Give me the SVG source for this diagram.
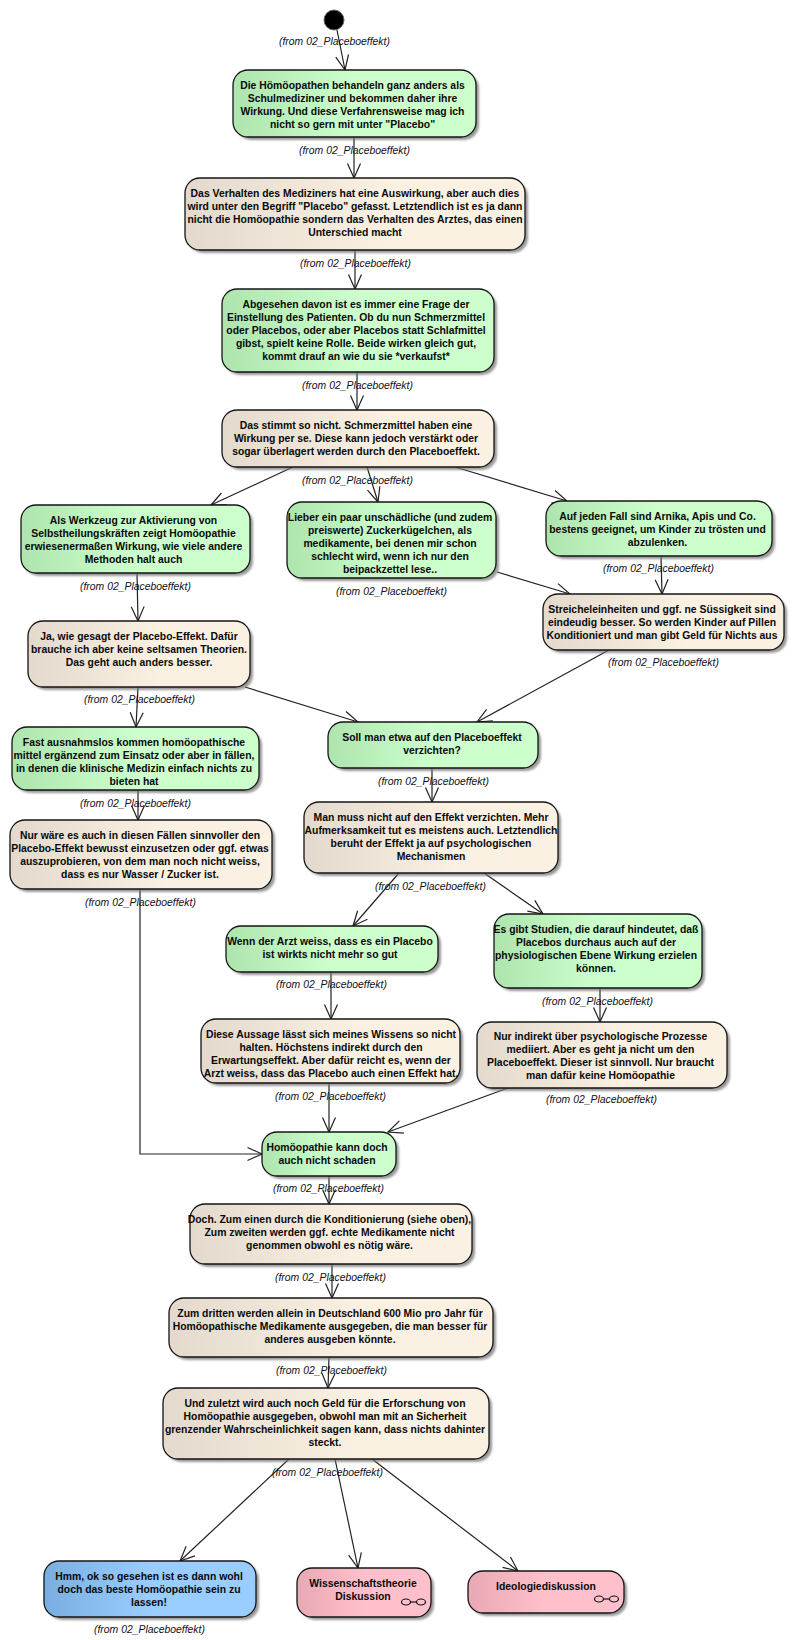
<svg xmlns="http://www.w3.org/2000/svg" width="795" height="1640" viewBox="0 0 795 1640">
<style>
.g{fill:url(#gg)}.b{fill:url(#gb)}.o{fill:url(#go)}.p{fill:url(#gp)}
.n{stroke:#151515;stroke-width:1.3}
.s{fill:#777;opacity:.75;filter:url(#bl)}
.t{font:bold 10.4px "Liberation Sans",Arial,sans-serif;fill:#0a0a0a;text-anchor:middle}
.f{font:italic 10.4px "Liberation Sans",Arial,sans-serif;fill:#101018}
.c{fill:none;stroke:#222;stroke-width:1.2;marker-end:url(#ah)}
.i{fill:none;stroke:#111;stroke-width:1.2}
</style>
<defs>
<linearGradient id="gg"><stop offset="0" stop-color="#aee4ae"/><stop offset=".5" stop-color="#ccffcc"/></linearGradient>
<linearGradient id="go"><stop offset="0" stop-color="#e3d9cc"/><stop offset=".6" stop-color="#fbf1e3"/></linearGradient>
<linearGradient id="gb"><stop offset="0" stop-color="#7aaee0"/><stop offset=".5" stop-color="#99ccff"/></linearGradient>
<linearGradient id="gp"><stop offset="0" stop-color="#e8a8b4"/><stop offset=".5" stop-color="#ffc0cb"/></linearGradient>
<filter id="bl" x="-5%" y="-10%" width="110%" height="120%"><feGaussianBlur stdDeviation="1.2"/></filter>
<marker id="ah" markerUnits="userSpaceOnUse" markerWidth="20" markerHeight="16" refX="16" refY="8" orient="auto" overflow="visible"><path d="M1.5 1.5L16 8L1.5 14.5" fill="none" stroke="#222" stroke-width="1.2"/></marker>
</defs>
<g id="connectors">
<path class="c" d="M337 30L345 70"/>
<path class="c" d="M354 137V178"/>
<path class="c" d="M355 250V289"/>
<path class="c" d="M357 372V410"/>
<path class="c" d="M293 467L211 505"/>
<path class="c" d="M367 467L378 502"/>
<path class="c" d="M455 467L567 501"/>
<path class="c" d="M137 573L138 621"/>
<path class="c" d="M138 687L136 727"/>
<path class="c" d="M245 687L358 722"/>
<path class="c" d="M497 572L570 594"/>
<path class="c" d="M661 556L662 594"/>
<path class="c" d="M609 650L477 722"/>
<path class="c" d="M138 790V820"/>
<path class="c" d="M432 768V802"/>
<path class="c" d="M399 873L353 926"/>
<path class="c" d="M484 873L543 914"/>
<path class="c" d="M331 972V1019"/>
<path class="c" d="M600 988V1022"/>
<path class="c" d="M329 1083V1132"/>
<path class="c" d="M508 1088L388 1132"/>
<path class="c" d="M140 889V1154H262"/>
<path class="c" d="M329 1176V1204"/>
<path class="c" d="M332 1264V1298"/>
<path class="c" d="M329 1357L328 1388"/>
<path class="c" d="M289 1459L180 1561"/>
<path class="c" d="M335 1459L358 1568"/>
<path class="c" d="M372 1459L518 1571"/>
</g>
<g id="start"><circle cx="334" cy="20" r="10" fill="#000" stroke="#666" stroke-width="1"/>
<text class="f" x="279" y="45">(from 02_Placeboeffekt)</text></g>
<g id="n1"><rect class="s" x="236" y="73" width="243" height="67" rx="15"/><rect class="n g" x="233" y="70" width="243" height="67" rx="15"/>
<text class="t"><tspan x="352.5" y="89">Die Hömöopathen behandeln ganz anders als</tspan><tspan x="352.5" y="102">Schulmediziner und bekommen daher ihre</tspan><tspan x="352.5" y="115">Wirkung. Und diese Verfahrensweise mag ich</tspan><tspan x="352.5" y="128">nicht so gern mit unter "Placebo"</tspan></text>
<text class="f" x="299" y="154">(from 02_Placeboeffekt)</text></g>
<g id="n2"><rect class="s" x="188" y="181" width="340" height="72" rx="15"/><rect class="n o" x="185" y="178" width="340" height="72" rx="15"/>
<text class="t"><tspan x="355" y="197">Das Verhalten des Mediziners hat eine Auswirkung, aber auch dies</tspan><tspan x="355" y="210">wird unter den Begriff "Placebo" gefasst. Letztendlich ist es ja dann</tspan><tspan x="355" y="223">nicht die Homöopathie sondern das Verhalten des Arztes, das einen</tspan><tspan x="355" y="236">Unterschied macht</tspan></text>
<text class="f" x="300" y="267">(from 02_Placeboeffekt)</text></g>
<g id="n3"><rect class="s" x="225" y="292" width="272" height="83" rx="15"/><rect class="n g" x="222" y="289" width="272" height="83" rx="15"/>
<text class="t"><tspan x="356" y="308">Abgesehen davon ist es immer eine Frage der</tspan><tspan x="356" y="321">Einstellung des Patienten. Ob du nun Schmerzmittel</tspan><tspan x="356" y="334">oder Placebos, oder aber Placebos statt Schlafmittel</tspan><tspan x="356" y="347">gibst, spielt keine Rolle. Beide wirken gleich gut,</tspan><tspan x="356" y="360">kommt drauf an wie du sie *verkaufst*</tspan></text>
<text class="f" x="302" y="389">(from 02_Placeboeffekt)</text></g>
<g id="n4"><rect class="s" x="225" y="413" width="272" height="57" rx="15"/><rect class="n o" x="222" y="410" width="272" height="57" rx="15"/>
<text class="t"><tspan x="356" y="429">Das stimmt so nicht. Schmerzmittel haben eine</tspan><tspan x="356" y="442">Wirkung per se. Diese kann jedoch verstärkt oder</tspan><tspan x="356" y="455">sogar überlagert werden durch den Placeboeffekt.</tspan></text>
<text class="f" x="302" y="484">(from 02_Placeboeffekt)</text></g>
<g id="n5"><rect class="s" x="24" y="508" width="229" height="68" rx="15"/><rect class="n g" x="21" y="505" width="229" height="68" rx="15"/>
<text class="t"><tspan x="133.5" y="524">Als Werkzeug zur Aktivierung von</tspan><tspan x="133.5" y="537">Selbstheilungskräften zeigt Homöopathie</tspan><tspan x="133.5" y="550">erwiesenermaßen Wirkung, wie viele andere</tspan><tspan x="133.5" y="563">Methoden halt auch</tspan></text>
<text class="f" x="80" y="590">(from 02_Placeboeffekt)</text></g>
<g id="n6"><rect class="s" x="290" y="505" width="209" height="76" rx="15"/><rect class="n g" x="287" y="502" width="209" height="76" rx="15"/>
<text class="t"><tspan x="390" y="521">Lieber ein paar unschädliche (und zudem</tspan><tspan x="390" y="534">preiswerte) Zuckerkügelchen, als</tspan><tspan x="390" y="547">medikamente, bei denen mir schon</tspan><tspan x="390" y="560">schlecht wird, wenn ich nur den</tspan><tspan x="390" y="573">beipackzettel lese..</tspan></text>
<text class="f" x="336" y="595">(from 02_Placeboeffekt)</text></g>
<g id="n7"><rect class="s" x="549" y="504" width="226" height="55" rx="15"/><rect class="n g" x="546" y="501" width="226" height="55" rx="15"/>
<text class="t"><tspan x="657.5" y="520">Auf jeden Fall sind Arnika, Apis und Co.</tspan><tspan x="657.5" y="533">bestens geeignet, um Kinder zu trösten und</tspan><tspan x="657.5" y="546">abzulenken.</tspan></text>
<text class="f" x="603" y="572">(from 02_Placeboeffekt)</text></g>
<g id="n8"><rect class="s" x="546" y="597" width="241" height="56" rx="15"/><rect class="n o" x="543" y="594" width="241" height="56" rx="15"/>
<text class="t"><tspan x="662" y="613">Streicheleinheiten und ggf. ne Süssigkeit sind</tspan><tspan x="662" y="626">eindeudig besser. So werden Kinder auf Pillen</tspan><tspan x="662" y="639">Konditioniert und man gibt Geld für Nichts aus</tspan></text>
<text class="f" x="608" y="666">(from 02_Placeboeffekt)</text></g>
<g id="n9"><rect class="s" x="31" y="624" width="222" height="66" rx="15"/><rect class="n o" x="28" y="621" width="222" height="66" rx="15"/>
<text class="t"><tspan x="139" y="640">Ja, wie gesagt der Placebo-Effekt. Dafür</tspan><tspan x="139" y="653">brauche ich aber keine seltsamen Theorien.</tspan><tspan x="139" y="666">Das geht auch anders besser.</tspan></text>
<text class="f" x="84" y="703">(from 02_Placeboeffekt)</text></g>
<g id="n10"><rect class="s" x="15" y="730" width="247" height="63" rx="15"/><rect class="n g" x="12" y="727" width="247" height="63" rx="15"/>
<text class="t"><tspan x="134" y="746">Fast ausnahmslos kommen homöopathische</tspan><tspan x="134" y="759">mittel ergänzend zum Einsatz oder aber in fällen,</tspan><tspan x="134" y="772">in denen die klinische Medizin einfach nichts zu</tspan><tspan x="134" y="785">bieten hat</tspan></text>
<text class="f" x="80" y="807">(from 02_Placeboeffekt)</text></g>
<g id="n11"><rect class="s" x="331" y="725" width="210" height="46" rx="15"/><rect class="n g" x="328" y="722" width="210" height="46" rx="15"/>
<text class="t"><tspan x="432" y="741">Soll man etwa auf den Placeboeffekt</tspan><tspan x="432" y="754">verzichten?</tspan></text>
<text class="f" x="378" y="785">(from 02_Placeboeffekt)</text></g>
<g id="n12"><rect class="s" x="307" y="805" width="254" height="71" rx="15"/><rect class="n o" x="304" y="802" width="254" height="71" rx="15"/>
<text class="t"><tspan x="431" y="821">Man muss nicht auf den Effekt verzichten. Mehr</tspan><tspan x="431" y="834">Aufmerksamkeit tut es meistens auch. Letztendlich</tspan><tspan x="431" y="847">beruht der Effekt ja auf psychologischen</tspan><tspan x="431" y="860">Mechanismen</tspan></text>
<text class="f" x="375" y="890">(from 02_Placeboeffekt)</text></g>
<g id="n13"><rect class="s" x="13" y="823" width="262" height="69" rx="15"/><rect class="n o" x="10" y="820" width="262" height="69" rx="15"/>
<text class="t"><tspan x="140" y="839">Nur wäre es auch in diesen Fällen sinnvoller den</tspan><tspan x="140" y="852">Placebo-Effekt bewusst einzusetzen oder ggf. etwas</tspan><tspan x="140" y="865">auszuprobieren, von dem man noch nicht weiss,</tspan><tspan x="140" y="878">dass es nur Wasser / Zucker ist.</tspan></text>
<text class="f" x="85" y="906">(from 02_Placeboeffekt)</text></g>
<g id="n14"><rect class="s" x="229" y="929" width="212" height="46" rx="15"/><rect class="n g" x="226" y="926" width="212" height="46" rx="15"/>
<text class="t"><tspan x="330" y="945">Wenn der Arzt weiss, dass es ein Placebo</tspan><tspan x="330" y="958">ist wirkts nicht mehr so gut</tspan></text>
<text class="f" x="276" y="988">(from 02_Placeboeffekt)</text></g>
<g id="n15"><rect class="s" x="497" y="917" width="208" height="74" rx="15"/><rect class="n g" x="494" y="914" width="208" height="74" rx="15"/>
<text class="t"><tspan x="596" y="933">Es gibt Studien, die darauf hindeutet, daß</tspan><tspan x="596" y="946">Placebos durchaus auch auf der</tspan><tspan x="596" y="959">physiologischen Ebene Wirkung erzielen</tspan><tspan x="596" y="972">können.</tspan></text>
<text class="f" x="542" y="1005">(from 02_Placeboeffekt)</text></g>
<g id="n16"><rect class="s" x="204" y="1022" width="259" height="64" rx="15"/><rect class="n o" x="201" y="1019" width="259" height="64" rx="15"/>
<text class="t"><tspan x="331" y="1038">Diese Aussage lässt sich meines Wissens so nicht</tspan><tspan x="331" y="1051">halten. Höchstens indirekt durch den</tspan><tspan x="331" y="1064">Erwartungseffekt. Aber dafür reicht es, wenn der</tspan><tspan x="331" y="1077">Arzt weiss, dass das Placebo auch einen Effekt hat.</tspan></text>
<text class="f" x="275" y="1100">(from 02_Placeboeffekt)</text></g>
<g id="n17"><rect class="s" x="480" y="1025" width="250" height="66" rx="15"/><rect class="n o" x="477" y="1022" width="250" height="66" rx="15"/>
<text class="t"><tspan x="600.5" y="1040">Nur indirekt über psychologische Prozesse</tspan><tspan x="600.5" y="1053">mediiert. Aber es geht ja nicht um den</tspan><tspan x="600.5" y="1066">Placeboeffekt. Dieser ist sinnvoll. Nur braucht</tspan><tspan x="600.5" y="1079">man dafür keine Homöopathie</tspan></text>
<text class="f" x="546" y="1103">(from 02_Placeboeffekt)</text></g>
<g id="n18"><rect class="s" x="265" y="1135" width="134" height="44" rx="15"/><rect class="n g" x="262" y="1132" width="134" height="44" rx="15"/>
<text class="t"><tspan x="327" y="1151">Homöopathie kann doch</tspan><tspan x="327" y="1164">auch nicht schaden</tspan></text>
<text class="f" x="273" y="1192">(from 02_Placeboeffekt)</text></g>
<g id="n19"><rect class="s" x="193" y="1207" width="282" height="60" rx="15"/><rect class="n o" x="190" y="1204" width="282" height="60" rx="15"/>
<text class="t"><tspan x="329.5" y="1223">Doch. Zum einen durch die Konditionierung (siehe oben),</tspan><tspan x="329.5" y="1236">Zum zweiten werden ggf. echte Medikamente nicht</tspan><tspan x="329.5" y="1249">genommen obwohl es nötig wäre.</tspan></text>
<text class="f" x="275" y="1281">(from 02_Placeboeffekt)</text></g>
<g id="n20"><rect class="s" x="172" y="1301" width="324" height="59" rx="15"/><rect class="n o" x="169" y="1298" width="324" height="59" rx="15"/>
<text class="t"><tspan x="330" y="1317">Zum dritten werden allein in Deutschland 600 Mio pro Jahr für</tspan><tspan x="330" y="1330">Homöopathische Medikamente ausgegeben, die man besser für</tspan><tspan x="330" y="1343">anderes ausgeben könnte.</tspan></text>
<text class="f" x="276" y="1374">(from 02_Placeboeffekt)</text></g>
<g id="n21"><rect class="s" x="166" y="1391" width="326" height="71" rx="15"/><rect class="n o" x="163" y="1388" width="326" height="71" rx="15"/>
<text class="t"><tspan x="325" y="1407">Und zuletzt wird auch noch Geld für die Erforschung von</tspan><tspan x="325" y="1420">Homöopathie ausgegeben, obwohl man mit an Sicherheit</tspan><tspan x="325" y="1433">grenzender Wahrscheinlichkeit sagen kann, dass nichts dahinter</tspan><tspan x="325" y="1446">steckt.</tspan></text>
<text class="f" x="272" y="1476">(from 02_Placeboeffekt)</text></g>
<g id="n22"><rect class="s" x="47" y="1564" width="212" height="56" rx="15"/><rect class="n b" x="44" y="1561" width="212" height="56" rx="15"/>
<text class="t"><tspan x="149" y="1580">Hmm, ok so gesehen ist es dann wohl</tspan><tspan x="149" y="1593">doch das beste Homöopathie sein zu</tspan><tspan x="149" y="1606">lassen!</tspan></text>
<text class="f" x="94" y="1633">(from 02_Placeboeffekt)</text></g>
<g id="n23"><rect class="s" x="300" y="1571" width="134" height="49" rx="15"/><rect class="n p" x="297" y="1568" width="134" height="49" rx="15"/>
<text class="t"><tspan x="363" y="1587">Wissenschaftstheorie</tspan><tspan x="363" y="1600">Diskussion</tspan></text>
<path class="i" d="M410.5 1602H416.5"/><ellipse class="i" cx="406" cy="1602" rx="4.5" ry="3"/><ellipse class="i" cx="421" cy="1602" rx="4.5" ry="3"/></g>
<g id="n24"><rect class="s" x="471" y="1574" width="156" height="42" rx="15"/><rect class="n p" x="468" y="1571" width="156" height="42" rx="15"/>
<text class="t"><tspan x="546" y="1590">Ideologiediskussion</tspan></text>
<path class="i" d="M603.5 1599H609.5"/><ellipse class="i" cx="599" cy="1599" rx="4.5" ry="3"/><ellipse class="i" cx="614" cy="1599" rx="4.5" ry="3"/></g>
</svg>
